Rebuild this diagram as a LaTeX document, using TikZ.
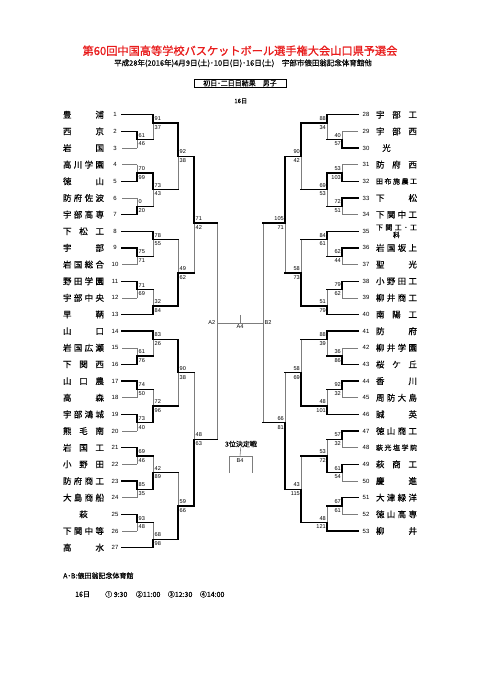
\documentclass[tikz,border=0pt]{standalone}
\usepackage{fontspec}
\setmainfont{Liberation Sans}
\newfontfamily\jp[FakeBold=0.35]{Noto Sans CJK JP}
\newfontfamily\jptitle[FakeBold=1.1]{Noto Sans CJK JP}
\usetikzlibrary{positioning}
\definecolor{titlered}{RGB}{232,28,28}
\definecolor{losegray}{RGB}{125,125,125}

\pgfdeclarelayer{thin}
\pgfsetlayers{thin,main}

\tikzset{
  win/.style={line width=1.4pt, line cap=rect, black},
  lose/.style={line width=0.6pt, losegray},
  team/.style={inner sep=0pt, font=\jp\fontsize{8.5}{9}\selectfont},
  smallteam/.style={inner sep=0pt, font=\jp\fontsize{7}{7.5}\selectfont},
  tnum/.style={inner sep=0pt, font=\fontsize{6}{6}\selectfont},
  score/.style={inner sep=0pt, font=\fontsize{5.6}{6}\selectfont},
  jtext/.style={inner sep=0pt, font=\jp\fontsize{#1}{#1}\selectfont},
  jtext/.default=7
}

% team names spread over the name column
\def\spr#1{\makebox[41pt]{\expandafter\sprA#1\relax}}
\def\sprA#1#2{#1\ifx\relax#2\else\hfill\expandafter\sprA\expandafter#2\fi}

% game: id, x, top row, bottom row, out row, next x, top score, bottom score, winner (0 top, 1 bottom)
\newcommand{\game}[9]{%
  \begin{pgfonlayer}{thin}
  \ifnum#9=0 \draw[lose] (#2,#5) -- (#2,#4);
  \else \draw[lose] (#2,#3) -- (#2,#5);
  \fi
  \end{pgfonlayer}
  \ifnum#9=0 \draw[win] (#2,#3) -- (#2,#5) -- (#6,#5);
  \else \draw[win] (#2,#4) -- (#2,#5) -- (#6,#5);
  \fi
  \ifdim#6pt>#2pt
    \node[score, anchor=south west, yshift=2.3pt] (#1a) at (#2+1.5,#5) {#7};
    \node[score, anchor=north west, yshift=-2.2pt] (#1b) at (#2+1.5,#5) {#8};
  \else
    \node[score, anchor=south east, yshift=2.3pt] (#1a) at (#2-1,#5) {#7};
    \node[score, anchor=north east, yshift=-2.2pt] (#1b) at (#2-1,#5) {#8};
  \fi}

\begin{document}
\begin{tikzpicture}[x=1pt, y=-1pt]
  \useasboundingbox (0,0) rectangle (481,680);

  \node[inner sep=0pt, font=\jptitle\fontsize{11.2}{11.2}\selectfont, text=titlered] (title) at (240,50.7) {第60回中国高等学校バスケットボール選手権大会山口県予選会};
  \node[jtext=7.5] (dates) at (243,63.3) {平成28年(2016年)4月9日(土)･10日(日)･16日(土)\quad 宇部市俵田翁記念体育館他};
  \node[jtext=7, draw, line width=0.6pt, minimum width=92pt, minimum height=8.5pt] (result) at (240,83.2) {初日･二日目結果　男子};
  \node[jtext=6] (day) at (240.7,101) {16日};

  \begin{scope}[y=-16.65pt, yshift=-98.05pt]
    % final
    \draw[lose] (217,7.5) -- (217,20.5);
    \draw[lose] (263,7.5) -- (263,19.5);
    \draw[lose] (217,13.5) -- (263,13.5);
    \draw[lose] (240,13.02) -- (240,13.5);
    \coordinate (mid) at (240,13.5);
    \node[score, anchor=east] (A2) at (215.5,13.5) {A2};
    \node[score, anchor=west] (B2) at (264.5,13.5) {B2};
    \node[score, below=1.8pt of mid] (A4) {A4};

    % left teams
    \foreach \i/\nm/\xe/\st in {1/豊浦/153/win, 2/西京/137/win, 3/岩国/137/lose,
        4/高川学園/137/lose, 5/徳山/137/win, 6/防府佐波/137/lose, 7/宇部高専/137/win,
        8/下松工/153/win, 9/宇部/137/win, 10/岩国総合/137/lose, 11/野田学園/137/win,
        12/宇部中央/137/lose, 13/早鞆/153/win, 14/山口/153/win, 15/岩国広瀬/137/lose,
        16/下関西/137/win, 17/山口農/137/win, 18/高森/137/lose, 19/宇部鴻城/137/win,
        20/熊毛南/137/lose, 21/岩国工/137/win, 22/小野田/137/lose, 23/防府商工/137/win,
        24/大島商船/137/lose, 25/{{\hfill 萩\hfill}}/137/win, 26/下関中等/137/lose,
        27/高水/153/win} {
      \node[team] (ln\i) at (83.5,\i) {\spr{\nm}};
      \node[tnum] (lk\i) at (115,\i) {\i};
      \draw[\st] (122,\i) -- (\xe,\i);
    }

    % right teams
    \foreach \i/\nm/\xe/\st/\ts in {28/宇部工/327/win/team, 29/宇部西/342/lose/team,
        30/{{\hspace*{6.3pt}光\hfill}}/342/win/team, 31/防府西/342/lose/team,
        32/田布施農工/342/win/smallteam, 33/下松/342/win/team, 34/下関中工/342/lose/team,
        36/岩国坂上/342/win/team, 37/聖光/342/lose/team, 38/小野田工/342/win/team,
        39/柳井商工/342/lose/team, 40/南陽工/327/win/team, 41/防府/327/win/team,
        42/柳井学園/342/lose/team, 43/桜ケ丘/342/win/team, 44/香川/342/win/team,
        45/周防大島/342/lose/team, 46/誠英/327/win/team, 47/徳山商工/342/win/team,
        48/萩光塩学院/342/lose/smallteam, 49/萩商工/342/win/team, 50/慶進/342/lose/team,
        51/大津緑洋/342/win/team, 52/徳山高専/342/lose/team, 53/柳井/327/win/team} {
      \node[\ts] (rn\i) at (396.5,\i-27) {\spr{\nm}};
      \node[tnum] (rk\i) at (366,\i-27) {\i};
      \draw[\st] (358,\i-27) -- (\xe,\i-27);
    }
    \node[smallteam, align=center] (rn35) at (396.5,8) {\spr{下関工･工}\\科};
    \node[tnum] (rk35) at (366,8) {35};
    \draw[win] (358,8) -- (327,8);

    % left games
    \game{L1}{137}{2}{3}{2.5}{153}{61}{46}{0}
    \game{L2}{153}{1}{2.5}{1.5}{178}{91}{37}{0}
    \game{L3}{137}{4}{5}{4.5}{153}{70}{99}{1}
    \game{L4}{137}{6}{7}{6.5}{153}{0}{20}{1}
    \game{L5}{153}{4.5}{6.5}{5.5}{178}{73}{43}{0}
    \game{L6}{178}{1.5}{5.5}{3.5}{194}{92}{38}{0}
    \game{L7}{137}{9}{10}{9.5}{153}{75}{71}{0}
    \game{L8}{153}{8}{9.5}{8.5}{178}{78}{55}{0}
    \game{L9}{137}{11}{12}{11.5}{153}{71}{69}{0}
    \game{L10}{153}{11.5}{13}{12.5}{178}{32}{84}{1}
    \game{L11}{178}{8.5}{12.5}{10.5}{194}{49}{62}{1}
    \game{L12}{194}{3.5}{10.5}{7.5}{217}{71}{42}{0}
    \game{L13}{137}{15}{16}{15.5}{153}{61}{76}{1}
    \game{L14}{153}{14}{15.5}{14.5}{178}{83}{26}{0}
    \game{L15}{137}{17}{18}{17.5}{153}{74}{50}{0}
    \game{L16}{137}{19}{20}{19.5}{153}{73}{40}{0}
    \game{L17}{153}{17.5}{19.5}{18.5}{178}{72}{96}{1}
    \game{L18}{178}{14.5}{18.5}{16.5}{194}{90}{38}{0}
    \game{L19}{137}{21}{22}{21.5}{153}{69}{46}{0}
    \game{L20}{137}{23}{24}{23.5}{153}{85}{35}{0}
    \game{L21}{153}{21.5}{23.5}{22.5}{178}{42}{89}{1}
    \game{L22}{137}{25}{26}{25.5}{153}{93}{48}{0}
    \game{L23}{153}{25.5}{27}{26.5}{178}{68}{98}{1}
    \game{L24}{178}{22.5}{26.5}{24.5}{194}{59}{66}{1}
    \game{L25}{194}{16.5}{24.5}{20.5}{217}{48}{63}{1}

    % right games
    \game{R1}{342}{2}{3}{2.5}{327}{40}{57}{1}
    \game{R2}{327}{1}{2.5}{1.5}{301}{88}{34}{0}
    \game{R3}{342}{4}{5}{4.5}{327}{53}{103}{1}
    \game{R4}{342}{6}{7}{6.5}{327}{72}{51}{0}
    \game{R5}{327}{4.5}{6.5}{5.5}{301}{69}{53}{0}
    \game{R6}{301}{1.5}{5.5}{3.5}{285}{90}{42}{0}
    \game{R7}{342}{9}{10}{9.5}{327}{62}{44}{0}
    \game{R8}{327}{8}{9.5}{8.5}{301}{84}{61}{0}
    \game{R9}{342}{11}{12}{11.5}{327}{79}{62}{0}
    \game{R10}{327}{11.5}{13}{12.5}{301}{51}{79}{1}
    \game{R11}{301}{8.5}{12.5}{10.5}{285}{58}{73}{1}
    \game{R12}{285}{3.5}{10.5}{7.5}{263}{105}{71}{0}
    \game{R13}{342}{15}{16}{15.5}{327}{36}{86}{1}
    \game{R14}{327}{14}{15.5}{14.5}{301}{88}{39}{0}
    \game{R15}{342}{17}{18}{17.5}{327}{92}{32}{0}
    \game{R16}{327}{17.5}{19}{18.5}{301}{48}{101}{1}
    \game{R17}{301}{14.5}{18.5}{16.5}{285}{58}{69}{1}
    \game{R18}{342}{20}{21}{20.5}{327}{57}{32}{0}
    \game{R19}{342}{22}{23}{22.5}{327}{61}{54}{0}
    \game{R20}{327}{20.5}{22.5}{21.5}{301}{53}{72}{1}
    \game{R21}{342}{24}{25}{24.5}{327}{67}{61}{0}
    \game{R22}{327}{24.5}{26}{25.5}{301}{48}{121}{1}
    \game{R23}{301}{21.5}{25.5}{23.5}{285}{43}{115}{1}
    \game{R24}{285}{16.5}{23.5}{19.5}{263}{66}{81}{1}
  \end{scope}

  % third place
  \node[jtext=7] (third) at (241,444) {3位決定戦};
  \coordinate (b4top) at (240,456.7);
  \draw[lose] (third) -- (b4top);
  \draw[lose] (229,473) -- (229,456.7) -- (252,456.7) -- (252,473);
  \node[score, below=1.8pt of b4top] (B4) {B4};

  % footer
  \node[jtext=7, anchor=west] (gym) at (63,575.7) {A･B:俵田翁記念体育館};
  \node[jtext=7, anchor=west] (time0) at (75,594.3) {16日};
  \node[jtext=7, anchor=west] (time1) at (105,594.3) {①\ 9:30};
  \node[jtext=7, anchor=west] (time2) at (135.7,594.3) {②11:00};
  \node[jtext=7, anchor=west] (time3) at (167.7,594.3) {③12:30};
  \node[jtext=7, anchor=west] (time4) at (199.7,594.3) {④14:00};
\end{tikzpicture}
\end{document}
